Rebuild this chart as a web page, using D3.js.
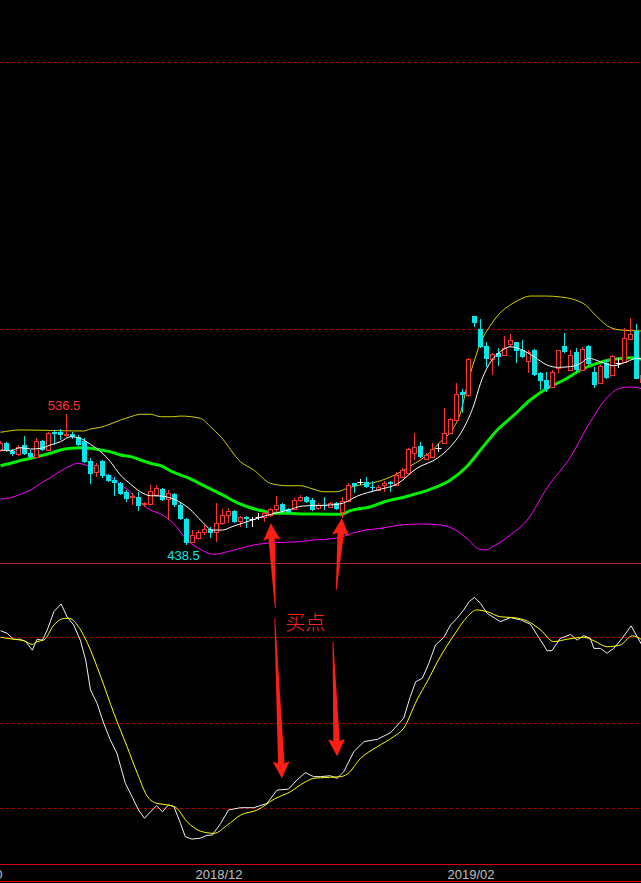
<!DOCTYPE html>
<html><head><meta charset="utf-8">
<script src="https://cdn.jsdelivr.net/npm/d3@7"></script>
<style>html,body{margin:0;padding:0;background:#000;overflow:hidden}</style>
</head><body>
<svg id="c" width="641" height="883"></svg>
<script>
// ---------- DATA ----------
const open  = [509.4,514.6,508.6,506.4,513,507,504,516,509.4,523,523,520.6,521.4,519.1,516,501,493,501,490.6,487,484.6,478,474.2,474.2,469,469,475.7,480.2,472.7,476.4,468.2,457.7,440.5,443.5,448,450.2,448,454.7,460.7,463.7,456.2,459.2,457.7,459.4,459.2,460.7,465.2,469,465.2,465.2,472,474.2,472,466,468.5,466.7,469.7,462.9,471.2,484.6,485.4,485.4,482,479.4,483.1,485.4,483.1,489.1,492.1,507.1,512.4,502.6,504.1,510.5,514.6,522.1,531.8,552.8,550.6,609.7,600,587.3,577.5,582,580.5,588.8,590.3,584.3,576,584.3,567,561.8,556.6,570.8,587.3,569.3,582.8,569.3,587.3,567.8,559.6,574.5,565.5,574.5,575.3,592.5,598.5,560.3];
const high  = [516,515.5,510,513,520,509,518,517,523,524,525,536.5,523,520.6,518,503.4,500,502,491.4,489,485.4,479.4,477,478,470.4,483,483,481,479.4,477.2,469.7,458.4,449.4,449.4,453,451.7,469.7,465.2,466,464.4,460,460,459.2,462.4,462.9,466,475,469.7,466,473.4,475.7,475,473.4,469.7,474.2,470.4,470.4,474.2,484.6,485,487.6,489,485.8,483.1,486.1,486.1,492.9,495.9,510.9,522.1,515.3,507.1,514.6,513.9,540.8,533.4,559.6,555,578.3,609.7,607.5,590.3,582,585.8,594.8,596.3,590.5,591.8,584.3,585,567.8,567.8,569.3,584.6,597,584.3,585.8,586.5,588,571.5,573,576.8,580.5,578.3,600.7,608.2,603.5,567];
const low   = [508,508,505,505,505.6,503.4,503.4,508.6,508.6,513,517,519,517.6,512.4,500,484,489,488.5,485.4,475,475.7,470.4,468,463.7,466.7,468.5,475,471.5,457,467,457,438.5,439.7,442,445.7,443.5,440.5,453.2,454.7,454.7,451.7,451,451.7,456.9,455.4,459.2,462.9,462.2,462.2,464.4,470.4,469.7,464,464.4,464.4,466,464.4,458.5,470.4,477.2,483.1,481,477.9,478.7,477.9,477.9,482.4,488.4,491.4,502,503.4,502.2,503.8,507.9,514,521.4,531,537.1,549.1,601.5,586,571.5,565.5,572.3,580,586.5,574.5,578.3,567,565,554.3,552.8,556,567,582,568.5,567.8,568.5,573,555.8,559.6,562.5,564.8,570.8,574.5,591.8,562.5,559];
const close = [514.6,509.4,506.4,511.6,506.4,504,516,509.4,522,521.4,520.6,521.4,519.1,513.1,500.4,491.4,498,490,486,484.6,476.4,472.7,475,467.4,469.7,478.7,481,472,477.2,468.2,457.7,439.7,445.7,448,450.2,447.2,454.7,460.7,463.7,455.4,459.2,457.7,457.7,459.4,462.2,465.2,468.2,463.7,462.9,472,474.2,470.4,464.4,468.2,468,469.7,465.2,471.2,483.1,482.4,485.4,481.6,481.6,481.6,484.6,483.9,490.6,494.4,510.1,511.6,504.1,505.6,510.1,510.5,522.1,532.6,551.3,550.6,577.5,604.5,586.5,577.5,581.3,579,585.8,591.8,583.5,579,582.8,565.5,561,555,567.8,584.3,582.8,580.5,569.3,585,573.8,558,572.3,563.3,579.8,574.5,593.3,596.3,562.5,565.5];

// moving-average line (white) [candle index, price]
const maFast = [[0,509.4],[1.7,508.8],[3.3,511.1],[5,510.1],[6.7,510.6],[8.3,513.1],[10,515.6],[11.7,519.3],[13.3,518.1],[15,513.6],[16.7,508.1],[18.3,500.6],[20,490.6],[21.7,483.7],[23.3,478.1],[25,475.1],[26.7,474.9],[29.2,471.9],[31.4,465.7],[33.6,455.7],[35.3,449.4],[37,449.4],[38.6,451.9],[40.3,454.5],[42,457],[43.6,459.4],[45.8,462],[48,464.4],[50.3,467.4],[52.5,467.8],[55,468.2],[57.2,469.7],[59.5,474.9],[62.8,479.4],[66.1,483.9],[69.4,495.7],[72.8,503.2],[75,511.8],[77.2,525.8],[78.9,543.1],[80,559.3],[81.7,575.5],[83.3,583],[85,586.7],[86.7,584.8],[88.9,579.3],[91.1,573],[92.8,571.3],[95,571.8],[96.7,574.3],[98,578.1],[100,575.5],[102.2,572.5],[104.4,575.5],[106.1,578.1],[107,577.3]];
// middle line (green)
const maMid = [[0,497.6],[1.7,499.4],[3.3,501.4],[5,503.2],[6.7,505.1],[8.3,506.9],[10,509.4],[11.7,510.6],[13.3,511.1],[15,510.6],[16.7,509.4],[18.3,508.1],[20,505.6],[21.7,504.4],[23.3,501.9],[25,499.4],[26.7,497.6],[28.6,493.1],[31.3,488.4],[34.2,481.9],[37,475.7],[39.7,469.4],[42.5,465],[44.2,463.2],[45.3,462],[48,462],[50.8,461.4],[52.5,461.4],[56.7,461.2],[58.3,463.9],[61.7,466.9],[64,470.6],[67.5,474.4],[71.7,480],[75,486.9],[77.8,497.4],[80,509.4],[82.8,524.4],[85.6,535.6],[88.3,546.8],[91.1,555.6],[93.9,561.8],[96.7,569.3],[99.4,574.3],[102.2,577.3],[105,578.5],[107,577.3]];
// upper band (yellow)
const bandUp = [[0,522.6],[1.7,523.8],[3.3,524.4],[8.3,524],[13.8,523.6],[15,525.1],[16.7,526.4],[18.3,528.8],[20,531.8],[21.7,534.3],[23.3,536.1],[25,536.1],[26.7,534.3],[28.8,534.3],[30,534.8],[33.3,533.1],[35,526.8],[36.7,519.3],[40,500.6],[42.2,494.4],[45,484.4],[47.8,482.6],[50,482.6],[51.7,480.7],[53.9,478.1],[56.1,478.1],[57.8,480.7],[60,483.2],[62.2,484.9],[64.5,488.2],[66.7,492.9],[68.3,497.4],[70,501.9],[71.7,507.9],[73.3,515.4],[75,522.9],[76.7,537.8],[77.8,558.1],[79,576.8],[80,589.5],[81.7,603],[82.8,609.7],[84.2,615.7],[85.5,619.5],[86.7,622.5],[88.3,624.7],[90.8,624.7],[93.3,624],[95.8,621.7],[97.5,618],[98.8,612],[100,606.7],[101.2,602.2],[103.3,599.3],[107,598.5]];
// lower band (magenta)
const bandDn = [[0,472.7],[1.7,473.6],[3.3,476.2],[5,479.4],[6.7,484.4],[8.3,488.6],[10,493.6],[11.7,497.6],[12.8,499.4],[14.5,497.6],[16.7,493.1],[18.3,489.4],[20,483.7],[21.7,477.7],[23.3,470.2],[25,464.4],[26.7,461.4],[28.8,454.5],[31.1,441.9],[33.3,435],[35.5,431.2],[37.8,433.2],[40,435.7],[42.2,438.2],[45.5,439.9],[50,440.7],[52.2,442],[54.4,442.5],[56.7,444],[58.9,447.4],[61.1,449.5],[63.3,450.7],[65.5,452.4],[66.7,453.2],[70,453.9],[73.3,453.2],[75.8,449.5],[78,442],[79.7,435.2],[80.8,434.5],[82.5,438.2],[85,445.7],[87.8,457],[91.2,481.7],[95,504.1],[97.8,526.6],[101.2,549.1],[103.3,555.8],[105,556.6],[107,555.1]];
// oscillator (lower panel)
const oscFast = [[0,82.2],[1.1,81.3],[2.2,79.2],[3.3,79.2],[4.2,78.4],[5.3,75.4],[6.1,79.2],[7,78.9],[7.8,82.5],[8.9,88.9],[10.1,91.6],[11.1,87.1],[12.2,84.2],[13.3,78.9],[14.2,71.9],[15,61.4],[16.1,56.7],[17.2,49.7],[18.3,43.9],[19.4,39.2],[20.8,28.7],[22.2,22.8],[23,19.3],[24,16.4],[25,18.7],[26,20.8],[27,18.7],[28,21.1],[28.9,20.5],[30,14.6],[30.8,9.9],[31.9,9.1],[33.3,9.4],[34.4,10.4],[35.3,10.5],[36.7,14.6],[38,19.3],[40,20.1],[42.2,20.1],[44.4,21.6],[46.1,26.3],[48,26.6],[49.4,29.8],[50.8,32.4],[52.2,31],[53.3,31],[55,31.3],[56.1,30.4],[57.2,32.7],[58.9,39.8],[60.6,43.3],[62.8,44.1],[65,46.4],[67.2,51.5],[68.3,59.1],[69.2,64.3],[70.3,65.5],[71.4,70.8],[72.5,77.2],[73.9,79.9],[75,84.2],[76.1,86.6],[77.2,89.5],[78.1,92.4],[79,93.9],[80,91.8],[81.1,88.3],[83.3,85.4],[85,86.8],[86.7,86],[88.3,84.5],[89.7,79.9],[91.1,75.2],[91.9,75.2],[93.3,79.5],[95,80.9],[96.1,78.9],[97.2,80.5],[98.3,79.5],[98.9,76],[100,76],[101.1,74.3],[102.2,76],[103.6,79.5],[105.1,83.9],[107,76.8]];
const oscSlow = [[0,79.9],[2.2,79.2],[3.9,78.7],[5.3,77.4],[6.1,78.4],[7.2,78.9],[8.9,84.2],[10.3,86.4],[11.4,86.6],[12.8,84.2],[14.5,77.8],[16.7,66.1],[18.9,53.2],[21.1,41.5],[22.8,32.2],[24.5,24],[26.1,21.6],[27.8,21.1],[29.2,20.2],[31.1,15.2],[33.3,11.9],[35.6,11.1],[37.8,14],[40,17.5],[42.8,19.3],[45.6,23.1],[48.3,25.7],[50.6,28.9],[52.2,30.4],[53.3,30.6],[56.7,31],[57.8,31.9],[60,37.4],[62.8,41.5],[65.5,45],[67.2,48],[69.4,57.9],[71.1,64.3],[73.3,73.1],[75.6,80.7],[77.8,87.1],[79.4,89.5],[81.1,88.9],[83.3,87.1],[85.5,86.8],[87.8,85.6],[90,82.5],[92.2,78.4],[94.4,79.2],[97.2,79.9],[98.9,78.7],[101.1,76.6],[103.3,77.2],[105.3,80.4],[107,78.9]];

const priceGrid = [600, 800];
const oscGrid = [20, 50, 80];
const dateTicks = [-8, 32, 74];
const dateLabels = ["2018/10", "2018/12", "2019/02"];
const highMark = {i: 11, v: 536.5};
const lowMark = {i: 31, v: 438.5};
const noteText = "买点";
const notePos = {i: 50.8, v: 85.3};
const arrowsPrice = [{from:[45.8,390.8], to:[45.06,454.5]}, {from:[55.95,404.5], to:[56.9,458.2]}];
const arrowsOsc = [{from:[45.7,86.6], to:[46.9,30.4]}, {from:[55.4,78.4], to:[56.1,38.2]}];

// ---------- DRAW ----------
const W = 641, H = 883;
const svg = d3.select("#c");
svg.append("rect").attr("width", W).attr("height", H).attr("fill", "#000");

const x = d3.scaleLinear().domain([0, 107]).range([0.5, 642.5]);
const yP = d3.scaleLinear().domain([600, 800]).range([329, 62]);
const yO = d3.scaleLinear().domain([20, 80]).range([808, 637]);

const defs = svg.append("defs");
defs.append("clipPath").attr("id", "cp1").append("rect").attr("x", 0).attr("y", 0).attr("width", W).attr("height", 562);
defs.append("clipPath").attr("id", "cp2").append("rect").attr("x", 0).attr("y", 564).attr("width", W).attr("height", 299);

// grid (via axes)
const gGrid1 = svg.append("g").call(d3.axisRight(yP).tickValues(priceGrid).tickSize(W).tickFormat(""));
const gGrid2 = svg.append("g").call(d3.axisRight(yO).tickValues(oscGrid).tickSize(W).tickFormat(""));
[gGrid1, gGrid2].forEach(g => {
  g.select(".domain").remove();
  g.selectAll(".tick line").attr("stroke", "#a00000").attr("stroke-dasharray", "3,3").attr("shape-rendering", "crispEdges");
});

// panel separators
svg.append("line").attr("x1", 0).attr("x2", W).attr("y1", 563.5).attr("y2", 563.5).attr("stroke", "#b42828");
svg.append("line").attr("x1", 0).attr("x2", W).attr("y1", 864.5).attr("y2", 864.5).attr("stroke", "#d80000");
svg.append("line").attr("x1", 0).attr("x2", W).attr("y1", 881.5).attr("y2", 881.5).attr("stroke", "#d80000");

// lines in upper panel
const up = svg.append("g").attr("clip-path", "url(#cp1)");
const lineP = d3.line().x(d => x(d[0])).y(d => yP(d[1])).curve(d3.curveMonotoneX);
up.append("path").datum(bandUp).attr("d", lineP).attr("fill", "none").attr("stroke", "#d2d200").attr("stroke-width", 1);
up.append("path").datum(bandDn).attr("d", lineP).attr("fill", "none").attr("stroke", "#ff00ff").attr("stroke-width", 1);
up.append("path").datum(maMid).attr("d", lineP).attr("fill", "none").attr("stroke", "#00f000").attr("stroke-width", 3);

// candles
const RED = "#ff3232", CYAN = "#00e8e8";
const cg = up.append("g");
open.forEach((o, k) => {
  const c = close[k], h = high[k], l = low[k];
  const cx = x(k);
  const top = Math.round(yP(Math.max(o, c))), bot = Math.round(yP(Math.min(o, c)));
  const yh = Math.round(yP(h)), yl = Math.round(yP(l));
  if (o === c) {
    cg.append("line").attr("x1", cx).attr("x2", cx).attr("y1", yh).attr("y2", yl).attr("stroke", "#fff");
    cg.append("line").attr("x1", cx - 3).attr("x2", cx + 3).attr("y1", top + 0.5).attr("y2", top + 0.5).attr("stroke", "#fff");
  } else if (c > o) {
    cg.append("line").attr("x1", cx).attr("x2", cx).attr("y1", yh).attr("y2", top).attr("stroke", RED);
    cg.append("line").attr("x1", cx).attr("x2", cx).attr("y1", bot).attr("y2", yl).attr("stroke", RED);
    cg.append("rect").attr("x", cx - 2).attr("y", top + 0.5).attr("width", 4).attr("height", Math.max(bot - top, 1))
      .attr("fill", "#000").attr("stroke", RED);
  } else {
    cg.append("line").attr("x1", cx).attr("x2", cx).attr("y1", yh).attr("y2", yl).attr("stroke", CYAN);
    cg.append("rect").attr("x", cx - 2.5).attr("y", top).attr("width", 5).attr("height", Math.max(bot - top, 1))
      .attr("fill", CYAN).attr("shape-rendering", "crispEdges");
  }
});
up.append("path").datum(maFast).attr("d", lineP).attr("fill", "none").attr("stroke", "#ffffff").attr("stroke-width", 1);

// extreme labels
svg.append("text").attr("x", x(highMark.i) - 2.5).attr("y", yP(highMark.v) - 4).attr("text-anchor", "middle")
  .attr("font-family", "Liberation Sans, Arial, sans-serif").attr("font-size", 13).attr("fill", RED).text(highMark.v.toFixed(1));
svg.append("text").attr("x", x(lowMark.i) - 3).attr("y", yP(lowMark.v) + 15).attr("text-anchor", "middle")
  .attr("font-family", "Liberation Sans, Arial, sans-serif").attr("font-size", 13).attr("fill", CYAN).text(lowMark.v.toFixed(1));

// oscillator panel
const lo = svg.append("g").attr("clip-path", "url(#cp2)");
const lineO = d3.line().x(d => x(d[0])).y(d => yO(d[1]));
lo.append("path").datum(oscFast).attr("d", lineO).attr("fill", "none").attr("stroke", "#f0f0f0").attr("stroke-width", 1);
lo.append("path").datum(oscSlow).attr("d", lineO.curve(d3.curveMonotoneX)).attr("fill", "none").attr("stroke", "#ffff00").attr("stroke-width", 1);

// date axis
const gx = svg.append("g").attr("transform", "translate(0,866)")
  .call(d3.axisBottom(x).tickValues(dateTicks).tickSize(0).tickFormat((d, i) => dateLabels[i]));
gx.select(".domain").remove();
gx.selectAll("text").attr("text-anchor", "start").attr("dx", 2.5).attr("y", 0).attr("dy", 13)
  .attr("fill", "#c0c0c0").attr("font-family", "Liberation Sans, Arial, sans-serif").attr("font-size", 13);

// arrows
function arrow(p0, p1) {
  const dx = p1[0] - p0[0], dy = p1[1] - p0[1];
  const L = Math.hypot(dx, dy), ux = dx / L, uy = dy / L, nx = -uy, ny = ux;
  const hl = 15, hw = 8.5, sw = 3.2;
  const bx = p1[0] - ux * hl, by = p1[1] - uy * hl;
  const pts = [
    [p0[0] + nx * 0.4, p0[1] + ny * 0.4],
    [bx + nx * sw, by + ny * sw],
    [bx - ux * 2 + nx * hw, by - uy * 2 + ny * hw],
    [p1[0], p1[1]],
    [bx - ux * 2 - nx * hw, by - uy * 2 - ny * hw],
    [bx - nx * sw, by - ny * sw],
    [p0[0] - nx * 0.4, p0[1] - ny * 0.4]
  ];
  return "M" + pts.map(p => p.join(",")).join("L") + "Z";
}
const ag = svg.append("g");
arrowsPrice.forEach(a => ag.append("path").attr("d", arrow([x(a.from[0]), yP(a.from[1])], [x(a.to[0]), yP(a.to[1])])).attr("fill", "#ff1e14"));
arrowsOsc.forEach(a => ag.append("path").attr("d", arrow([x(a.from[0]), yO(a.from[1])], [x(a.to[0]), yO(a.to[1])])).attr("fill", "#ff1e14"));

svg.append("text").attr("x", x(notePos.i)).attr("y", yO(notePos.v)).attr("text-anchor", "middle").attr("dominant-baseline", "central")
  .attr("font-family", "Noto Sans CJK SC, sans-serif").attr("font-weight", 300).attr("font-size", 20).attr("fill", "#ff2020").text(noteText);
</script>
</body></html>
